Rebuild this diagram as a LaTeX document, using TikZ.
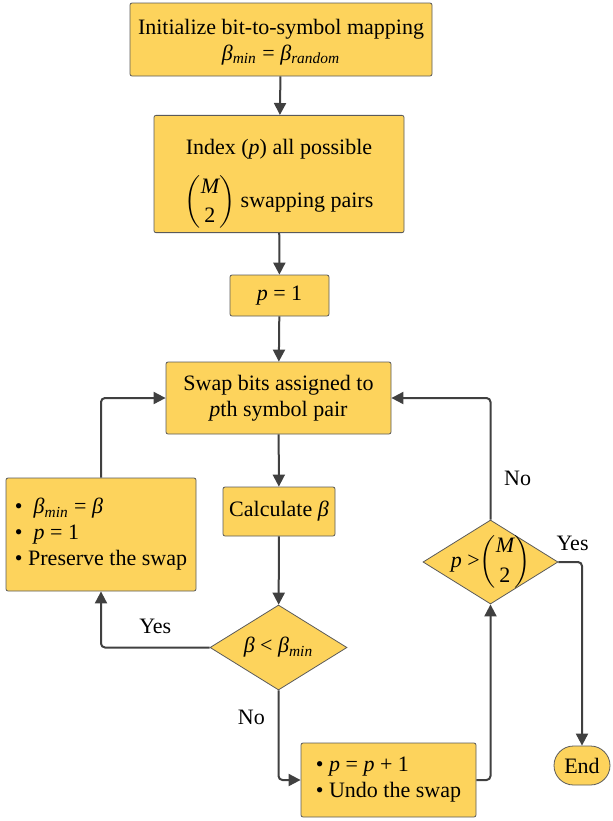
\documentclass[tikz,border=0pt]{standalone}
\usepackage{amsmath}
\usepackage{fontspec}
\setmainfont{Liberation Serif}[Ligatures=TeX]
\usetikzlibrary{shapes.geometric,arrows.meta}

\definecolor{boxfill}{RGB}{253,211,92}
\definecolor{boxline}{RGB}{90,90,90}
\definecolor{flowline}{RGB}{64,64,64}

% italic symbols set in the text font
\newcommand{\vv}[1]{\textit{#1}}
\newcommand{\bmin}{\vv{β}\textsubscript{\vv{min}}}
\newcommand{\Mtwo}{$\dbinom{\text{\itshape M}}{\text{2}}$}

\begin{document}
\begin{tikzpicture}[x=0.5pt,y=-0.5pt,
    font=\rmfamily\fontsize{11}{13}\selectfont,
    box/.style={draw=boxline,fill=boxfill,rounded corners=1pt,align=center,inner sep=2pt},
    decision/.style={diamond,draw=boxline,fill=boxfill,inner sep=0pt},
    flow/.style={draw=flowline,line width=1pt,-{Triangle[length=6pt,width=6pt]},rounded corners=2pt}]
    \useasboundingbox (0,0) rectangle (613,821);
    % boxes
    \node[box,minimum width=151pt,minimum height=36.5pt] (init) at (281,39.5)
        {\rule{0pt}{10pt}Initialize bit-to-symbol mapping\\ \bmin\ = \vv{β}\textsubscript{\vv{random}}};
    \node[box,minimum width=125pt,minimum height=56pt] (index) at (279,174)
        {\rule{0pt}{17.5pt}Index (\vv{p}) all possible\\[7.5pt] \Mtwo\ swapping pairs};
    \node[box,minimum width=49.5pt,minimum height=20.5pt] (pone) at (279.5,295.5) {\vv{p} = 1};
    \node[box,minimum width=112.5pt,minimum height=36pt] (swap) at (278.5,398)
        {Swap bits assigned to\\ \vv{p}th symbol pair};
    \node[box,minimum width=56pt,minimum height=24.5pt] (calc) at (279,511.5) {Calculate \vv{β}};
    \node[box,minimum width=95pt,minimum height=56.5pt,align=left] (keep) at (101,534.5)
        {\textbullet\ \ \bmin\ = \vv{β}\\ \textbullet\ \ \vv{p} = 1\\ \textbullet\ Preserve the swap};
    \node[decision,minimum width=68.5pt,minimum height=42.5pt,label=center:{\vv{β} < \bmin}] (less) at (278.5,647.5) {};
    \node[decision,minimum width=67.5pt,minimum height=42pt,label=center:{\vv{p} >\Mtwo}] (more) at (490.5,562) {};
    \node[box,minimum width=87.5pt,minimum height=37pt,align=left] (undo) at (388.5,780)
        {\textbullet\ \vv{p} = \vv{p} + 1\\ \textbullet\ Undo the swap};
    \node[box,rounded corners=9.75pt,minimum width=28pt,minimum height=19.5pt] (end) at (582,765.5) {End};
    % connectors
    \draw[flow] (init) -- (index);
    \draw[flow] (index) -- (pone);
    \draw[flow] (pone) -- (swap);
    \draw[flow] (swap) -- (calc);
    \draw[flow] (calc) -- (less);
    \draw[flow] (less.west) -| node[pos=0.25,above=3pt] {Yes} (keep.south);
    \draw[flow] (keep.north) |- (swap.west);
    \draw[flow] (less.south) |- node[pos=0.15,left=3pt] {No} (undo.west);
    \draw[flow] (undo.east) -| (more.south);
    \draw[flow] (more.north) |- node[pos=0.17,right=3pt] {No} (swap.east);
    \draw[flow] (more.east) -| node[pos=0.3,above=2pt] {Yes} (end.north);
\end{tikzpicture}
\end{document}
